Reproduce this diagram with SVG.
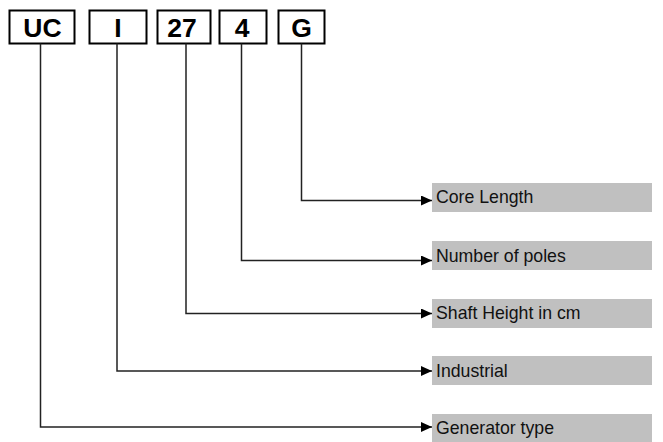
<svg xmlns="http://www.w3.org/2000/svg" width="663" height="442" viewBox="0 0 663 442">
<style>
.box{fill:#fff;stroke:#000;stroke-width:2}
.code{font-family:"Liberation Sans",Arial,sans-serif;font-weight:bold;font-size:26.5px;fill:#000;text-anchor:middle}
.lbl{fill:#c0c0c0}
.lt{font-family:"Liberation Sans",Arial,sans-serif;font-size:17.7px;fill:#111}
.con{fill:none;stroke:#222;stroke-width:1.5;marker-end:url(#ah)}
</style>
<defs>
<marker id="ah" markerUnits="userSpaceOnUse" markerWidth="11" markerHeight="10" refX="11" refY="5" orient="auto">
<path d="M0,0 L11,5 L0,10 Z" fill="#000"/>
</marker>
</defs>
<g id="uc"><rect class="box" x="9.5" y="10.5" width="65" height="33"/><text class="code" x="42.5" y="37">UC</text></g>
<g id="i"><rect class="box" x="89.5" y="10.5" width="57" height="33"/><text class="code" x="118" y="37">I</text></g>
<g id="n27"><rect class="box" x="157.5" y="10.5" width="53" height="33"/><text class="code" x="182" y="37">27</text></g>
<g id="n4"><rect class="box" x="219.5" y="10.5" width="47" height="33"/><text class="code" x="242" y="37">4</text></g>
<g id="g"><rect class="box" x="278.5" y="10.5" width="46" height="33"/><text class="code" x="301.5" y="37">G</text></g>
<g id="core"><rect class="lbl" x="432" y="183" width="220" height="29"/><text class="lt" x="436" y="203">Core Length</text></g>
<g id="poles"><rect class="lbl" x="432" y="241" width="220" height="29"/><text class="lt" x="436" y="262">Number of poles</text></g>
<g id="shaft"><rect class="lbl" x="432" y="299" width="220" height="29"/><text class="lt" x="436" y="319">Shaft Height in cm</text></g>
<g id="industrial"><rect class="lbl" x="432" y="356" width="220" height="29"/><text class="lt" x="436" y="377">Industrial</text></g>
<g id="gentype"><rect class="lbl" x="432" y="414" width="220" height="28"/><text class="lt" x="436" y="434">Generator type</text></g>
<g id="connectors">
<path class="con" d="M301.5,43.5 V200.5 H432"/>
<path class="con" d="M241.5,43.5 V260.5 H432"/>
<path class="con" d="M186,43.5 V313.5 H432"/>
<path class="con" d="M117,43.5 V371 H432"/>
<path class="con" d="M40.5,43.5 V427 H432"/>
</g>
</svg>
